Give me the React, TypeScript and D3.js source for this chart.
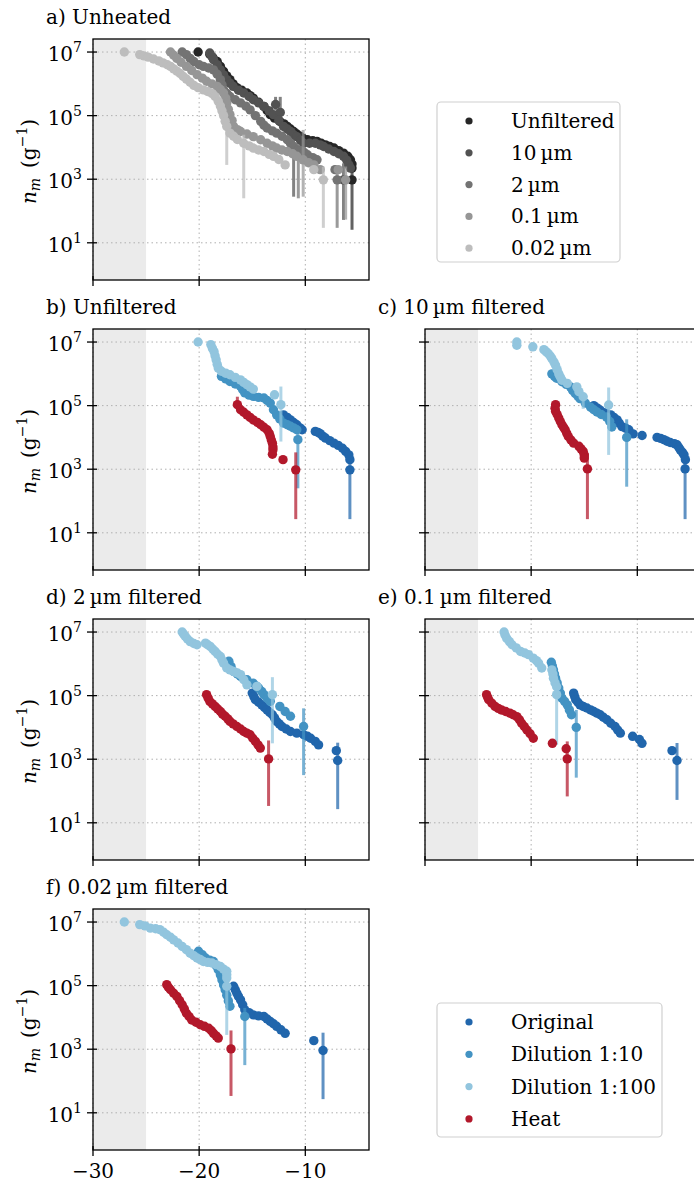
import React from "react";
import * as d3 from "d3";

// point: [temperature °C, log10 n_m] or [T, log10 n_m, log10 lower, log10 upper]
type Pt = number[];

const xTicks = [-30, -20, -10];
const yTickExps = [1, 3, 5, 7];
const shadeRange = [-30, -25];
const xDomain = [-30, -4];
const yDomainExp = [-0.17, 7.41];

const filterLabels = ["Unfiltered", "10\u2009\u00b5m", "2\u2009\u00b5m", "0.1\u2009\u00b5m", "0.02\u2009\u00b5m"];
const filterColors = ["#262626", "#525252", "#737373", "#969696", "#bdbdbd"];
const treatLabels = ["Original", "Dilution 1:10", "Dilution 1:100", "Heat"];
const treatColors = ["#2166ac", "#4393c3", "#92c5de", "#b2182b"];

// ---- a) Unheated ----
const aUnfiltered: Pt[] = [[-20.1,7.0],[-19.0,6.93],[-18.7,6.82],[-18.3,6.7],[-18.0,6.55],[-17.7,6.39],[-17.4,6.25],[-17.1,6.13],[-16.8,6.0],[-16.45,5.88],[-16.0,5.8],[-15.5,5.71],[-15.2,5.63],[-14.9,5.55],[-14.4,5.42],[-13.9,5.29],[-13.6,5.16],[-13.3,5.03],[-12.9,4.92],[-12.4,4.82],[-12.0,4.74],[-11.7,4.66],[-11.4,4.58],[-11.1,4.5],[-10.8,4.42],[-10.5,4.35],[-10.2,4.28],[-9.8,4.24],[-9.3,4.21],[-8.9,4.19],[-8.5,4.13],[-8.1,4.08],[-7.7,4.03],[-7.3,3.98],[-6.85,3.9],[-6.4,3.82],[-6.0,3.72],[-5.75,3.61],[-5.6,3.48],[-5.6,3.35],[-5.6,2.98,1.41,3.5]];
const a10um: Pt[] = [[-19.0,6.97],[-18.8,6.86],[-18.65,6.76],[-18.3,6.6],[-18.0,6.44],[-17.7,6.28],[-17.4,6.13],[-17.1,6.02],[-16.8,5.92],[-16.3,5.8],[-15.8,5.71],[-15.3,5.6],[-14.9,5.5],[-14.4,5.4],[-13.9,5.29],[-13.4,5.15],[-13.0,5.03],[-12.8,5.35,5.18,5.59],[-12.36,5.1,4.77,5.59],[-12.5,4.85],[-12.05,4.66],[-11.7,4.58],[-11.4,4.5],[-11.1,4.4,2.45,4.6],[-10.8,4.34],[-10.45,4.22],[-10.16,4.13],[-9.6,4.13],[-9.06,4.13],[-8.6,4.08],[-8.27,4.03],[-7.8,3.95],[-7.3,3.87],[-6.85,3.8],[-6.4,3.72],[-6.1,3.6],[-5.9,3.45],[-5.75,3.35],[-6.4,2.98,1.72,3.5]];
const a2um: Pt[] = [[-21.6,7.0],[-21.2,6.92],[-20.85,6.8],[-20.5,6.7],[-20.0,6.6],[-19.6,6.55],[-19.1,6.5],[-18.65,6.44],[-18.3,6.3],[-18.0,6.13],[-17.85,5.97],[-17.7,5.81],[-17.4,5.7],[-17.1,5.6],[-16.6,5.5],[-16.1,5.4],[-15.6,5.3],[-15.2,5.18],[-14.7,5.0],[-14.2,4.82],[-13.9,4.7],[-13.6,4.61],[-13.1,4.52],[-12.7,4.45],[-12.2,4.35],[-11.7,4.24],[-11.4,4.13],[-11.1,4.03],[-10.66,3.92,2.4,4.1],[-10.5,3.9],[-10.1,3.84],[-9.8,3.77],[-9.3,3.68],[-8.9,3.61],[-7.2,3.3],[-7.0,2.98,1.47,3.39]];
const a01um: Pt[] = [[-22.7,7.0],[-22.4,6.9],[-22.1,6.8],[-21.7,6.68],[-21.2,6.55],[-20.7,6.42],[-20.2,6.29],[-19.7,6.18],[-19.3,6.08],[-18.8,6.0],[-18.3,5.92],[-18.0,5.82],[-17.7,5.71],[-17.5,5.55],[-17.4,5.4],[-17.25,5.2],[-17.1,5.03],[-16.9,4.85],[-16.76,4.66],[-16.4,4.56],[-16.1,4.5],[-15.5,4.42],[-14.9,4.34],[-14.2,4.24],[-13.6,4.13],[-13.1,4.05],[-12.7,3.98],[-12.2,3.92],[-11.7,3.87],[-11.2,3.8],[-10.8,3.72],[-10.2,3.61,2.45,4.55],[-9.7,3.52],[-9.2,3.45],[-8.6,3.3],[-6.9,3.3],[-6.2,2.98,1.73,3.4]];
const a002um: Pt[] = [[-27.05,7.0],[-25.6,6.92],[-25.2,6.88],[-24.8,6.84],[-24.3,6.78],[-23.8,6.72],[-23.4,6.66],[-23.0,6.6],[-22.7,6.55],[-22.4,6.47],[-22.1,6.4],[-21.8,6.33],[-21.5,6.23],[-21.2,6.15],[-20.85,6.05],[-20.5,5.95],[-20.1,5.88],[-19.6,5.81],[-19.2,5.76],[-18.8,5.7],[-18.5,5.6],[-18.2,5.45],[-18.0,5.3],[-17.85,5.15],[-17.7,5.0],[-17.55,4.82],[-17.4,4.66,3.45,4.9],[-17.1,4.45],[-16.76,4.35],[-16.4,4.25],[-15.8,4.13,2.4,4.4],[-15.3,4.05],[-14.9,3.98],[-14.4,3.92],[-13.9,3.87],[-13.4,3.78],[-12.99,3.72],[-12.5,3.62],[-11.9,3.45],[-9.2,3.3],[-8.3,2.98,1.47,3.39]];

// ---- b) Unfiltered ----
const bOriginal: Pt[] = [[-12.05,4.71],[-11.7,4.63],[-11.4,4.55],[-11.1,4.47],[-10.8,4.4],[-10.5,4.3],[-10.3,4.24],[-9.06,4.19],[-8.8,4.16],[-8.6,4.12],[-8.35,4.04],[-8.1,3.98],[-7.7,3.9],[-7.3,3.82],[-6.9,3.75],[-6.5,3.66],[-6.2,3.56],[-5.9,3.45],[-5.8,3.3],[-5.8,2.98,1.43,3.5]];
const bDil10: Pt[] = [[-17.9,5.92],[-17.5,5.84],[-17.1,5.76],[-16.6,5.68],[-16.1,5.6],[-15.9,5.5],[-15.7,5.4],[-15.3,5.33],[-14.9,5.29],[-14.4,5.26],[-13.9,5.24],[-13.6,5.16],[-13.3,5.08],[-13.0,4.87],[-12.7,4.71],[-12.4,4.58],[-12.05,4.45],[-11.7,4.4],[-11.4,4.35],[-11.1,4.3],[-10.8,4.24],[-10.7,3.93,2.4,4.2]];
const bDil100: Pt[] = [[-20.1,7.0],[-18.9,6.92],[-18.75,6.8],[-18.6,6.7],[-18.5,6.57],[-18.4,6.44],[-18.3,6.3],[-18.2,6.18],[-17.9,6.08],[-17.5,6.02],[-17.1,5.97],[-16.6,5.89],[-16.1,5.81],[-15.8,5.73],[-15.5,5.66],[-15.2,5.59],[-14.9,5.52],[-12.9,5.34],[-12.3,5.03,3.87,5.6]];
const bHeat: Pt[] = [[-16.4,5.03,5.03,5.28],[-16.1,4.87],[-15.8,4.79],[-15.5,4.71],[-15.2,4.63],[-14.9,4.55],[-14.5,4.47],[-14.2,4.4],[-13.9,4.32],[-13.6,4.24],[-13.4,4.13],[-13.3,4.03],[-13.2,3.92],[-13.1,3.82],[-13.05,3.7],[-13.05,3.61],[-13.1,3.47],[-12.1,3.3],[-10.9,2.98,1.43,3.53]];

// ---- c) 10 µm filtered ----
const cOriginal: Pt[] = [[-14.1,5.0],[-13.8,4.93],[-13.5,4.86],[-13.0,4.78],[-12.5,4.71],[-12.2,4.63],[-11.9,4.55],[-11.7,4.45],[-11.45,4.34],[-11.1,4.29],[-10.8,4.24],[-10.4,4.11],[-9.55,4.06],[-8.14,4.0],[-7.8,3.97],[-7.5,3.93],[-7.2,3.88],[-6.9,3.84],[-6.5,3.8],[-6.26,3.77],[-6.1,3.69],[-5.95,3.61],[-5.75,3.53],[-5.6,3.45],[-5.47,3.3],[-5.5,3.01,1.43,3.5]];
const cDil10: Pt[] = [[-18.05,6.0],[-17.8,5.92],[-17.6,5.86],[-17.1,5.75],[-16.7,5.67],[-16.3,5.59],[-16.1,5.48],[-15.85,5.38],[-15.6,5.3],[-15.4,5.22],[-14.9,5.08],[-14.4,4.95],[-14.1,4.87],[-13.8,4.8],[-13.4,4.72],[-12.9,4.64],[-12.6,4.5],[-12.4,4.33],[-11.0,4.0,2.45,4.57]];
const cDil100: Pt[] = [[-21.35,7.0],[-21.35,6.9],[-19.84,6.85],[-18.8,6.76],[-18.6,6.7],[-18.4,6.64],[-18.2,6.56],[-18.05,6.48],[-17.85,6.37],[-17.7,6.27],[-17.55,6.13],[-17.4,6.0],[-17.25,5.9],[-17.1,5.8],[-16.6,5.7],[-15.7,5.59],[-15.5,5.44],[-15.1,5.28,4.9,5.4],[-12.7,5.02,3.45,5.57]];
const cHeat: Pt[] = [[-17.7,5.03],[-17.75,4.92],[-17.7,4.82],[-17.55,4.72],[-17.4,4.61],[-17.25,4.5],[-17.1,4.4],[-16.95,4.32],[-16.8,4.24],[-16.65,4.13],[-16.5,4.03],[-16.25,3.92],[-16.0,3.82],[-15.5,3.72],[-15.3,3.64],[-15.1,3.56],[-15.0,3.45],[-15.0,3.35],[-14.7,3.01,1.43,3.5]];

// ---- d) 2 µm filtered ----
const dOriginal: Pt[] = [[-15.0,5.08],[-14.85,4.97],[-14.7,4.87],[-14.4,4.79],[-14.1,4.71],[-13.85,4.63],[-13.6,4.55],[-13.35,4.47],[-13.1,4.4],[-12.9,4.3],[-12.7,4.19],[-12.45,4.11],[-12.2,4.03],[-11.8,3.95],[-11.4,3.87],[-10.8,3.82],[-10.16,3.77],[-9.8,3.72],[-9.5,3.66],[-9.06,3.56],[-8.75,3.45],[-7.08,3.27],[-6.95,2.96,1.43,3.52]];
const dDil10: Pt[] = [[-17.2,6.08],[-17.0,5.92],[-16.76,5.76],[-16.4,5.68],[-16.1,5.6],[-15.5,5.5],[-14.9,5.39],[-14.6,5.3],[-14.4,5.24],[-14.1,5.13],[-13.9,5.03],[-13.6,4.92],[-13.3,4.82],[-12.4,4.66],[-11.9,4.5],[-11.4,4.35],[-10.16,4.03,2.5,4.6]];
const dDil100: Pt[] = [[-21.6,7.0],[-21.45,6.93],[-21.3,6.86],[-21.1,6.78],[-20.85,6.7],[-20.5,6.64],[-20.2,6.6],[-19.4,6.65],[-19.2,6.6],[-18.96,6.55],[-18.7,6.46],[-18.5,6.39],[-18.25,6.3],[-18.0,6.23],[-17.85,6.12],[-17.7,6.02],[-17.4,5.87],[-17.1,5.81],[-16.76,5.76],[-16.4,5.71],[-16.1,5.66],[-15.8,5.5],[-15.5,5.34],[-14.56,5.29],[-13.1,5.03,3.5,5.58]];
const dHeat: Pt[] = [[-19.3,5.03],[-19.15,4.92],[-19.0,4.82],[-18.75,4.74],[-18.5,4.66],[-18.25,4.58],[-18.0,4.5],[-17.8,4.42],[-17.55,4.35],[-17.3,4.27],[-17.1,4.19],[-16.8,4.11],[-16.45,4.03],[-16.1,3.95],[-15.8,3.87],[-15.5,3.82],[-15.2,3.77],[-14.95,3.66],[-14.7,3.56],[-14.45,3.45],[-14.24,3.35],[-13.46,3.01,1.53,3.59]];

// ---- e) 0.1 µm filtered ----
const eOriginal: Pt[] = [[-16.0,5.08],[-15.9,4.97],[-15.8,4.87],[-15.6,4.79],[-15.4,4.71],[-15.1,4.66],[-14.75,4.61],[-14.4,4.55],[-14.1,4.5],[-13.8,4.45],[-13.5,4.4],[-13.2,4.32],[-12.86,4.24],[-12.5,4.13],[-12.1,4.03],[-11.85,3.92],[-11.6,3.82],[-10.44,3.72],[-9.8,3.62],[-9.56,3.5],[-6.73,3.27],[-6.26,2.96,1.72,3.51]];
const eDil10: Pt[] = [[-18.1,6.05],[-18.0,5.93],[-17.9,5.81],[-17.8,5.68],[-17.7,5.55],[-17.55,5.4],[-17.4,5.24],[-17.25,5.08],[-17.1,4.92],[-16.85,4.82],[-16.6,4.71],[-16.4,4.55],[-16.2,4.4],[-15.75,4.0,2.42,4.55]];
const eDil100: Pt[] = [[-22.55,7.0],[-22.45,6.9],[-22.3,6.8],[-22.05,6.7],[-21.8,6.6],[-21.4,6.5],[-21.0,6.39],[-20.6,6.34],[-20.25,6.29],[-19.8,6.18],[-19.5,6.1],[-19.3,6.02],[-19.0,5.87],[-18.05,5.81],[-17.95,5.68],[-17.9,5.55],[-17.75,5.4],[-17.6,5.28],[-17.6,5.03,3.45,5.1]];
const eHeat: Pt[] = [[-24.2,5.03],[-24.1,4.95],[-24.0,4.87],[-23.7,4.76],[-23.4,4.66],[-23.1,4.6],[-22.8,4.55],[-22.4,4.5],[-22.0,4.45],[-21.7,4.4],[-21.35,4.34],[-21.1,4.24],[-20.9,4.13],[-20.65,4.03],[-20.4,3.92],[-20.1,3.8],[-19.8,3.66],[-18.0,3.5],[-16.7,3.33],[-16.6,3.01,1.83,3.56]];

// ---- f) 0.02 µm filtered ----
const fOriginal: Pt[] = [[-16.76,4.98],[-16.6,4.87],[-16.45,4.76],[-16.3,4.66],[-16.1,4.55],[-15.9,4.4],[-15.7,4.24],[-15.3,4.15],[-14.9,4.08],[-14.4,4.05],[-13.9,4.03],[-13.6,3.95],[-13.3,3.87],[-13.0,3.8],[-12.7,3.72],[-12.3,3.61],[-11.9,3.5],[-9.2,3.27],[-8.33,2.96,1.43,3.52]];
const fDil10: Pt[] = [[-20.06,6.08],[-19.7,5.97],[-19.4,5.87],[-19.0,5.8],[-18.65,5.76],[-18.4,5.63],[-18.2,5.5],[-18.0,5.34],[-17.85,5.18],[-17.7,5.02],[-17.55,4.87],[-17.4,4.7],[-17.25,4.52],[-17.1,4.35],[-15.7,4.03,2.5,4.3]];
const fDil100: Pt[] = [[-27.05,7.0],[-25.6,6.92],[-25.1,6.88],[-24.6,6.81],[-24.1,6.79],[-23.7,6.76],[-23.35,6.68],[-23.05,6.6],[-22.7,6.52],[-22.4,6.44],[-22.0,6.34],[-21.6,6.23],[-21.2,6.13],[-20.85,6.02],[-20.5,5.94],[-20.2,5.87],[-19.9,5.82],[-19.6,5.76],[-19.2,5.73],[-18.8,5.71],[-18.4,5.66],[-18.0,5.6],[-17.7,5.52],[-17.4,5.45],[-17.4,5.34],[-17.4,5.24],[-17.4,4.98,3.45,5.1]];
const fHeat: Pt[] = [[-23.05,5.03],[-22.9,4.95],[-22.7,4.87],[-22.4,4.76],[-22.1,4.66],[-21.85,4.53],[-21.6,4.4],[-21.4,4.27],[-21.2,4.13],[-20.95,4.03],[-20.7,3.92],[-20.3,3.85],[-19.9,3.77],[-19.5,3.72],[-19.1,3.66],[-18.85,3.58],[-18.65,3.5],[-18.4,3.42],[-18.2,3.35],[-17.0,3.01,1.53,3.59]];

const panelTitles = ["a) Unheated", "b) Unfiltered", "c) 10\u2009\u00b5m filtered", "d) 2\u2009\u00b5m filtered", "e) 0.1\u2009\u00b5m filtered", "f) 0.02\u2009\u00b5m filtered"];

const W = 276;
const H = 241;
const FONT = "'DejaVu Serif', 'Liberation Serif', serif";
const FS = 20;
const SUP = 14;

const panels = [
  { title: panelTitles[0], left: 93, top: 39, series: [aUnfiltered, a10um, a2um, a01um, a002um], colors: filterColors, yLab: true, xLab: false },
  { title: panelTitles[1], left: 93, top: 329, series: [bOriginal, bDil10, bDil100, bHeat], colors: treatColors, yLab: true, xLab: false },
  { title: panelTitles[2], left: 425, top: 329, series: [cOriginal, cDil10, cDil100, cHeat], colors: treatColors, yLab: false, xLab: false },
  { title: panelTitles[3], left: 93, top: 619, series: [dOriginal, dDil10, dDil100, dHeat], colors: treatColors, yLab: true, xLab: false },
  { title: panelTitles[4], left: 425, top: 619, series: [eOriginal, eDil10, eDil100, eHeat], colors: treatColors, yLab: false, xLab: false },
  { title: panelTitles[5], left: 93, top: 909, series: [fOriginal, fDil10, fDil100, fHeat], colors: treatColors, yLab: true, xLab: true },
];

function Panel({ p, idx }: { p: any; idx: number }) {
  const x = d3.scaleLinear().domain(xDomain).range([p.left, p.left + W]);
  const y = d3.scaleLog().domain(yDomainExp.map((e) => Math.pow(10, e))).range([p.top + H, p.top]);
  const yv = (e: number) => y(Math.pow(10, e));
  const bottom = p.top + H;
  const clipId = `clip${idx}`;
  return (
    <g>
      <defs>
        <clipPath id={clipId}>
          <rect x={p.left} y={p.top} width={W} height={H} />
        </clipPath>
      </defs>
      <rect x={x(shadeRange[0])} y={p.top} width={x(shadeRange[1]) - x(shadeRange[0])} height={H} fill="#ebebeb" />
      {xTicks.map((t) => (
        <line key={"gx" + t} x1={x(t)} x2={x(t)} y1={p.top} y2={bottom} stroke="#b0b0b0" strokeWidth={1} strokeDasharray="1.5,3" />
      ))}
      {yTickExps.map((e) => (
        <line key={"gy" + e} x1={p.left} x2={p.left + W} y1={yv(e)} y2={yv(e)} stroke="#b0b0b0" strokeWidth={1} strokeDasharray="1.5,3" />
      ))}
      <g clipPath={`url(#${clipId})`}>
        {p.series.map((s: Pt[], si: number) => (
          <g key={"s" + si}>
            {s.filter((d) => d.length > 2).map((d, i) => (
              <line key={"e" + i} x1={x(d[0])} x2={x(d[0])} y1={yv(d[2])} y2={yv(d[3])} stroke={p.colors[si]} strokeOpacity={0.72} strokeWidth={3} />
            ))}
            {s.map((d, i) => (
              <circle key={"p" + i} cx={x(d[0])} cy={yv(d[1])} r={4.7} fill={p.colors[si]} />
            ))}
          </g>
        ))}
      </g>
      <rect x={p.left} y={p.top} width={W} height={H} fill="none" stroke="#000" strokeWidth={1.3} />
      {xTicks.map((t) => (
        <g key={"xt" + t}>
          <line x1={x(t)} x2={x(t)} y1={bottom - 4} y2={bottom + 6} stroke="#000" strokeWidth={1.3} />
          {p.xLab && (
            <text x={x(t)} y={bottom + 28} textAnchor="middle" fontFamily={FONT} fontSize={FS}>
              {"\u2212" + Math.abs(t)}
            </text>
          )}
        </g>
      ))}
      {yTickExps.map((e) => (
        <g key={"yt" + e}>
          <line x1={p.left - 6} x2={p.left + 4} y1={yv(e)} y2={yv(e)} stroke="#000" strokeWidth={1.3} />
          {p.yLab && (
            <text x={p.left - 11} y={yv(e) + 9} textAnchor="end" fontFamily={FONT} fontSize={FS}>
              10
              <tspan dy={-9} fontSize={SUP}>{e}</tspan>
            </text>
          )}
        </g>
      ))}
      {p.yLab && (
        <text
          transform={`translate(${p.left - 57},${p.top + H / 2 + 2}) rotate(-90)`}
          textAnchor="middle"
          fontFamily={FONT}
          fontSize={FS}
        >
          <tspan fontStyle="italic">n</tspan>
          <tspan fontStyle="italic" fontSize={SUP} dy={4}>m</tspan>
          <tspan dy={-4}>{"\u2002(g"}</tspan>
          <tspan fontSize={SUP} dy={-9}>{"\u22121"}</tspan>
          <tspan dy={9}>)</tspan>
        </text>
      )}
      <text x={p.left - 47} y={p.top - 15} fontFamily={FONT} fontSize={FS}>
        {p.title}
      </text>
    </g>
  );
}

function Legend({ x0, y0, w, h, labels, colors, step }: any) {
  return (
    <g>
      <rect x={x0} y={y0} width={w} height={h} rx={4} ry={4} fill="#fff" stroke="#d0d0d0" strokeWidth={1.2} />
      {labels.map((l: string, i: number) => (
        <g key={l}>
          <circle cx={x0 + 32} cy={y0 + 19 + i * step} r={3.6} fill={colors[i]} />
          <text x={x0 + 74} y={y0 + 26 + i * step} fontFamily={FONT} fontSize={FS}>
            {l}
          </text>
        </g>
      ))}
    </g>
  );
}

export default function App() {
  return (
    <div style={{ position: "absolute", left: 0, top: 0, width: 694, height: 1185, background: "#fff" }}>
      <svg width={694} height={1185} viewBox="0 0 694 1185" style={{ display: "block" }}>
        <rect x={0} y={0} width={694} height={1185} fill="#fff" />
        {panels.map((p, i) => (
          <Panel key={i} p={p} idx={i} />
        ))}
        <Legend x0={437} y0={102} w={183} h={160} labels={filterLabels} colors={filterColors} step={31.8} />
        <Legend x0={437} y0={1003} w={225} h={134} labels={treatLabels} colors={treatColors} step={32.3} />
      </svg>
    </div>
  );
}
